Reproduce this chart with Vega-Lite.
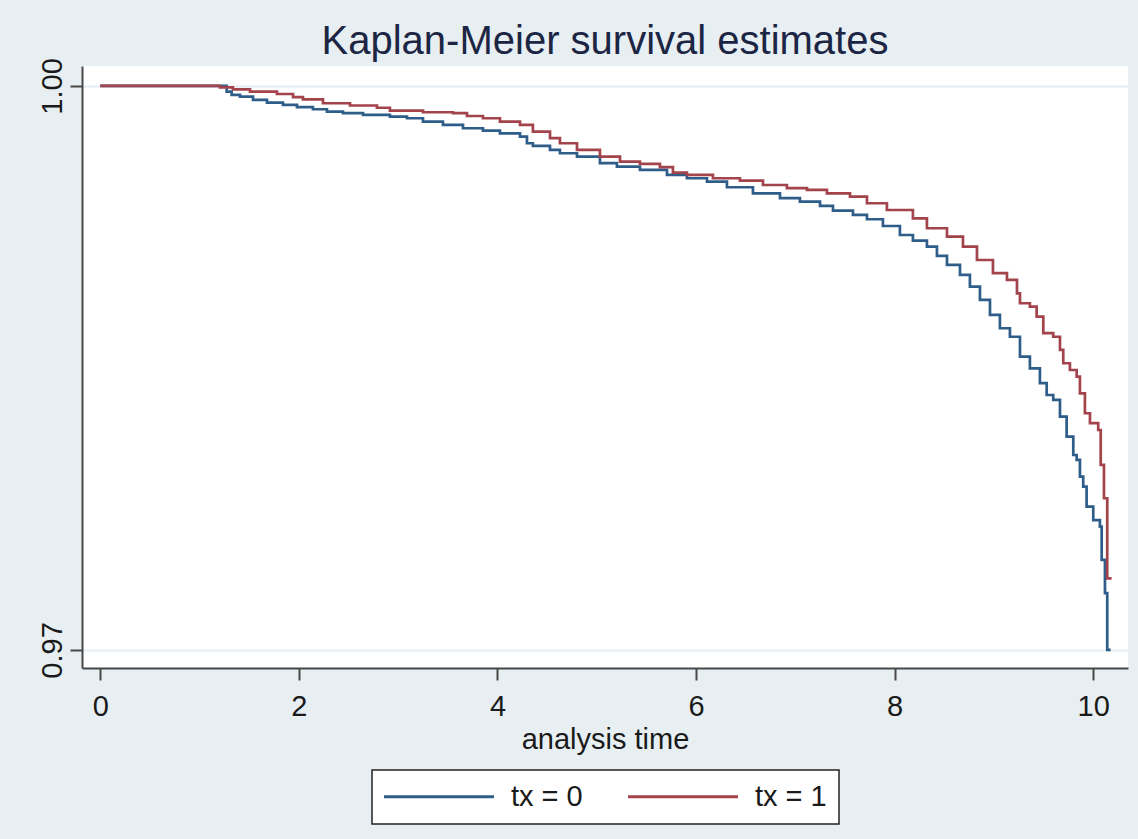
{
  "$schema": "https://vega.github.io/schema/vega-lite/v6.json",
  "width": 1046,
  "height": 602,
  "autosize": {"type": "none"},
  "padding": {"left": 82, "top": 66, "right": 10, "bottom": 171},
  "background": "#e8eff2",
  "view": {"fill": "white", "stroke": null},
  "title": {
    "text": "Kaplan-Meier survival estimates",
    "font": "Liberation Sans",
    "fontSize": 40,
    "fontWeight": "normal",
    "color": "#1c2644",
    "anchor": "middle",
    "baseline": "alphabetic",
    "offset": 5,
    "dy": 41
  },
  "config": {
    "legend": {"strokeWidth": 1.5}
  },
  "data": {
    "values": [
      {"tx": 0, "t": 0, "s": 1.0},
      {"tx": 0, "t": 1.236, "s": 1.0},
      {"tx": 0, "t": 1.273, "s": 0.9997},
      {"tx": 0, "t": 1.323, "s": 0.99952},
      {"tx": 0, "t": 1.407, "s": 0.99943},
      {"tx": 0, "t": 1.538, "s": 0.99926},
      {"tx": 0, "t": 1.679, "s": 0.99911},
      {"tx": 0, "t": 1.84, "s": 0.99899},
      {"tx": 0, "t": 1.981, "s": 0.99887},
      {"tx": 0, "t": 2.142, "s": 0.99876},
      {"tx": 0, "t": 2.283, "s": 0.99863},
      {"tx": 0, "t": 2.444, "s": 0.99855},
      {"tx": 0, "t": 2.646, "s": 0.99846},
      {"tx": 0, "t": 2.917, "s": 0.99837},
      {"tx": 0, "t": 3.089, "s": 0.99828},
      {"tx": 0, "t": 3.25, "s": 0.9981},
      {"tx": 0, "t": 3.451, "s": 0.99793},
      {"tx": 0, "t": 3.653, "s": 0.99775},
      {"tx": 0, "t": 3.854, "s": 0.99762},
      {"tx": 0, "t": 4.025, "s": 0.99748},
      {"tx": 0, "t": 4.227, "s": 0.9973},
      {"tx": 0, "t": 4.297, "s": 0.99695},
      {"tx": 0, "t": 4.357, "s": 0.99681},
      {"tx": 0, "t": 4.529, "s": 0.9966},
      {"tx": 0, "t": 4.629, "s": 0.99642},
      {"tx": 0, "t": 4.801, "s": 0.99624},
      {"tx": 0, "t": 5.032, "s": 0.99589},
      {"tx": 0, "t": 5.203, "s": 0.99571},
      {"tx": 0, "t": 5.435, "s": 0.99553},
      {"tx": 0, "t": 5.707, "s": 0.99527},
      {"tx": 0, "t": 5.908, "s": 0.99509},
      {"tx": 0, "t": 6.11, "s": 0.99491},
      {"tx": 0, "t": 6.311, "s": 0.99461},
      {"tx": 0, "t": 6.573, "s": 0.99429},
      {"tx": 0, "t": 6.845, "s": 0.99403},
      {"tx": 0, "t": 7.046, "s": 0.99385},
      {"tx": 0, "t": 7.248, "s": 0.99362},
      {"tx": 0, "t": 7.379, "s": 0.99337},
      {"tx": 0, "t": 7.58, "s": 0.99314},
      {"tx": 0, "t": 7.721, "s": 0.99291},
      {"tx": 0, "t": 7.882, "s": 0.99255},
      {"tx": 0, "t": 8.053, "s": 0.99207},
      {"tx": 0, "t": 8.184, "s": 0.99177},
      {"tx": 0, "t": 8.325, "s": 0.99145},
      {"tx": 0, "t": 8.426, "s": 0.99096},
      {"tx": 0, "t": 8.527, "s": 0.99048},
      {"tx": 0, "t": 8.658, "s": 0.98995},
      {"tx": 0, "t": 8.758, "s": 0.98932},
      {"tx": 0, "t": 8.859, "s": 0.98862},
      {"tx": 0, "t": 8.96, "s": 0.98782},
      {"tx": 0, "t": 9.06, "s": 0.98711},
      {"tx": 0, "t": 9.161, "s": 0.98666},
      {"tx": 0, "t": 9.262, "s": 0.9856},
      {"tx": 0, "t": 9.362, "s": 0.98498},
      {"tx": 0, "t": 9.463, "s": 0.98419},
      {"tx": 0, "t": 9.531, "s": 0.98356},
      {"tx": 0, "t": 9.597, "s": 0.9833},
      {"tx": 0, "t": 9.665, "s": 0.98241},
      {"tx": 0, "t": 9.732, "s": 0.98135},
      {"tx": 0, "t": 9.799, "s": 0.98037},
      {"tx": 0, "t": 9.833, "s": 0.98011},
      {"tx": 0, "t": 9.866, "s": 0.97922},
      {"tx": 0, "t": 9.899, "s": 0.97869},
      {"tx": 0, "t": 9.933, "s": 0.97762},
      {"tx": 0, "t": 10.0, "s": 0.97691},
      {"tx": 0, "t": 10.067, "s": 0.97656},
      {"tx": 0, "t": 10.085, "s": 0.97479},
      {"tx": 0, "t": 10.118, "s": 0.97302},
      {"tx": 0, "t": 10.141, "s": 0.97},
      {"tx": 0, "t": 10.175, "s": 0.97},
      {"tx": 1, "t": 0, "s": 1.0},
      {"tx": 1, "t": 1.105, "s": 1.0},
      {"tx": 1, "t": 1.205, "s": 0.99992},
      {"tx": 1, "t": 1.336, "s": 0.99982},
      {"tx": 1, "t": 1.508, "s": 0.9997},
      {"tx": 1, "t": 1.779, "s": 0.99957},
      {"tx": 1, "t": 1.941, "s": 0.9994},
      {"tx": 1, "t": 2.041, "s": 0.99929},
      {"tx": 1, "t": 2.243, "s": 0.99908},
      {"tx": 1, "t": 2.515, "s": 0.99896},
      {"tx": 1, "t": 2.786, "s": 0.99884},
      {"tx": 1, "t": 2.917, "s": 0.99869},
      {"tx": 1, "t": 3.25, "s": 0.9986},
      {"tx": 1, "t": 3.552, "s": 0.99855},
      {"tx": 1, "t": 3.693, "s": 0.9984},
      {"tx": 1, "t": 3.854, "s": 0.99828},
      {"tx": 1, "t": 4.025, "s": 0.9981},
      {"tx": 1, "t": 4.227, "s": 0.99793},
      {"tx": 1, "t": 4.357, "s": 0.99757},
      {"tx": 1, "t": 4.529, "s": 0.99722},
      {"tx": 1, "t": 4.629, "s": 0.99695},
      {"tx": 1, "t": 4.801, "s": 0.9966},
      {"tx": 1, "t": 5.032, "s": 0.99624},
      {"tx": 1, "t": 5.234, "s": 0.99597},
      {"tx": 1, "t": 5.435, "s": 0.99585},
      {"tx": 1, "t": 5.636, "s": 0.99568},
      {"tx": 1, "t": 5.767, "s": 0.99539},
      {"tx": 1, "t": 5.908, "s": 0.99527},
      {"tx": 1, "t": 6.17, "s": 0.99509},
      {"tx": 1, "t": 6.442, "s": 0.99496},
      {"tx": 1, "t": 6.674, "s": 0.99473},
      {"tx": 1, "t": 6.915, "s": 0.99456},
      {"tx": 1, "t": 7.117, "s": 0.99447},
      {"tx": 1, "t": 7.318, "s": 0.99429},
      {"tx": 1, "t": 7.55, "s": 0.99411},
      {"tx": 1, "t": 7.721, "s": 0.99376},
      {"tx": 1, "t": 7.922, "s": 0.9934},
      {"tx": 1, "t": 8.184, "s": 0.99296},
      {"tx": 1, "t": 8.325, "s": 0.99243},
      {"tx": 1, "t": 8.527, "s": 0.99198},
      {"tx": 1, "t": 8.688, "s": 0.99145},
      {"tx": 1, "t": 8.829, "s": 0.99074},
      {"tx": 1, "t": 8.99, "s": 0.99004},
      {"tx": 1, "t": 9.131, "s": 0.98968},
      {"tx": 1, "t": 9.232, "s": 0.98897},
      {"tx": 1, "t": 9.262, "s": 0.98844},
      {"tx": 1, "t": 9.362, "s": 0.98826},
      {"tx": 1, "t": 9.43, "s": 0.98773},
      {"tx": 1, "t": 9.497, "s": 0.98685},
      {"tx": 1, "t": 9.597, "s": 0.98666},
      {"tx": 1, "t": 9.665, "s": 0.98596},
      {"tx": 1, "t": 9.698, "s": 0.98525},
      {"tx": 1, "t": 9.765, "s": 0.98489},
      {"tx": 1, "t": 9.833, "s": 0.98454},
      {"tx": 1, "t": 9.866, "s": 0.98365},
      {"tx": 1, "t": 9.916, "s": 0.98259},
      {"tx": 1, "t": 9.967, "s": 0.98206},
      {"tx": 1, "t": 10.05, "s": 0.9817},
      {"tx": 1, "t": 10.075, "s": 0.97984},
      {"tx": 1, "t": 10.108, "s": 0.97807},
      {"tx": 1, "t": 10.141, "s": 0.97381},
      {"tx": 1, "t": 10.185, "s": 0.97381}
    ]
  },
  "mark": {"type": "line", "interpolate": "step-after", "strokeWidth": 2.7},
  "encoding": {
    "x": {
      "field": "t",
      "type": "quantitative",
      "scale": {"domain": [-0.184, 10.35], "nice": false, "zero": false},
      "axis": {
        "title": "analysis time",
        "values": [0, 2, 4, 6, 8, 10],
        "format": "d",
        "grid": false,
        "labelFlush": false,
        "domainColor": "#474747",
        "domainWidth": 2,
        "tickColor": "#474747",
        "tickWidth": 2,
        "tickSize": 12,
        "labelFont": "Liberation Sans",
        "labelFontSize": 29,
        "labelColor": "#1a1a1a",
        "labelPadding": 12,
        "titleFont": "Liberation Sans",
        "titleFontSize": 29,
        "titleFontWeight": "normal",
        "titleColor": "#1a1a1a",
        "titleBaseline": "alphabetic",
        "titleY": 80
      }
    },
    "y": {
      "field": "s",
      "type": "quantitative",
      "scale": {"domain": [0.96904, 1.00106], "nice": false, "zero": false},
      "axis": {
        "title": null,
        "values": [0.97, 1.0],
        "format": ".2f",
        "grid": true,
        "gridColor": "#e6edf1",
        "gridWidth": 2,
        "domainColor": "#474747",
        "domainWidth": 2,
        "tickColor": "#474747",
        "tickWidth": 2,
        "tickSize": 12,
        "labelAngle": -90,
        "labelAlign": "center",
        "labelBaseline": "alphabetic",
        "labelPadding": 9,
        "labelFont": "Liberation Sans",
        "labelFontSize": 29,
        "labelColor": "#1a1a1a"
      }
    },
    "color": {
      "field": "tx",
      "type": "nominal",
      "scale": {"domain": [0, 1], "range": ["#2f5d8a", "#a3434b"]},
      "legend": {
        "orient": "none",
        "legendX": 290,
        "legendY": 704,
        "direction": "horizontal",
        "title": null,
        "fillColor": "white",
        "strokeColor": "#222222",
        "padding": 12,
        "symbolType": "M-2.636,0H17.364",
        "symbolSize": 121,
        "symbolStrokeWidth": 3,
        "labelOffset": 98,
        "columnPadding": 39,
        "labelFont": "Liberation Sans",
        "labelFontSize": 29,
        "labelColor": "#1a1a1a",
        "labelExpr": "'tx = ' + datum.label"
      }
    }
  }
}
